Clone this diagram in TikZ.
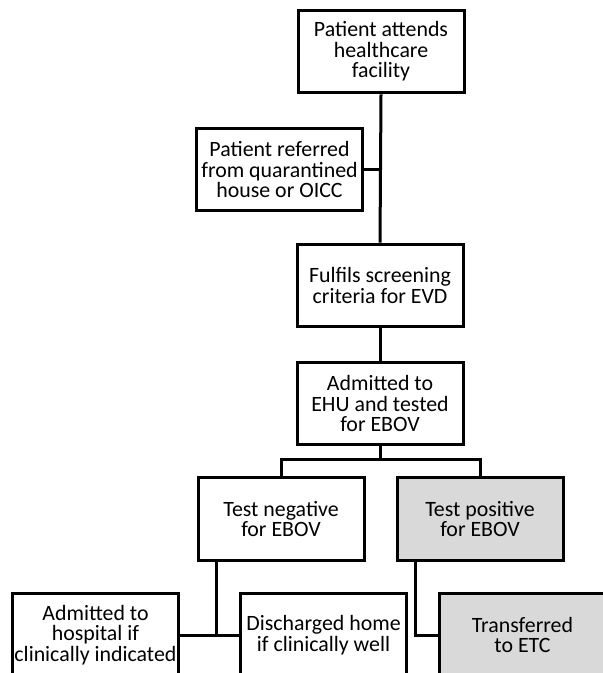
\documentclass[tikz,border=0pt]{standalone}
\usepackage{fontspec}
\setmainfont{Carlito}
\begin{document}
\begin{tikzpicture}[x=0.75pt,y=-0.75pt,
	caja/.style={draw, line width=2.25pt, minimum width=124.5pt, minimum height=62pt,
		align=center, inner sep=1pt, font=\fontsize{16.4}{15.3}\selectfont},
	cajagris/.style={caja, fill=gray!30},
	linea/.style={line width=2.25pt}]
	\useasboundingbox (0,0) rectangle (602,673);
	
	% Cajas del flujo principal
	\node[caja] (llegada) at (381,51.5) {Patient attends\\healthcare\\facility};
	\node[caja] (referido) at (279.5,169.5) {Patient referred\\from quarantined\\house or OICC};
	\node[caja] (cribado) at (380,285.5) {Fulfils screening\\criteria for EVD};
	\node[caja] (ingreso) at (380,403.5) {Admitted to\\EHU and tested\\for EBOV};
	
	% Resultados de la prueba
	\node[caja] (negativo) at (281,519) {Test negative\\for EBOV};
	\node[cajagris] (positivo) at (480,519) {Test positive\\for EBOV};
	
	% Destinos finales
	\node[caja] (hospital) at (95.5,635) {Admitted to\\hospital if\\clinically indicated};
	\node[caja] (alta) at (323.5,635) {Discharged home\\if clinically well};
	\node[cajagris] (etc) at (522.5,635) {Transferred\\to ETC};
	
	% Conexiones
	\draw[linea] (llegada.south) -- (cribado.north);
	\draw[linea] (referido.east) -- (referido.east -| llegada.south);
	\draw[linea] (cribado.south) -- (ingreso.north);
	\coordinate (rama) at (380,459);
	\draw[linea] (ingreso.south) -- (rama);
	\draw[linea] (negativo.north) |- (rama) -| (positivo.north);
	\coordinate (negx) at (216,635);
	\draw[linea] (negx |- negativo.south) -- (negx);
	\draw[linea] (hospital.east) -- (alta.west);
	\coordinate (posx) at (415,635);
	\draw[linea] (posx |- positivo.south) -- (posx) -- (etc.west);
	
\end{tikzpicture}
\end{document}
